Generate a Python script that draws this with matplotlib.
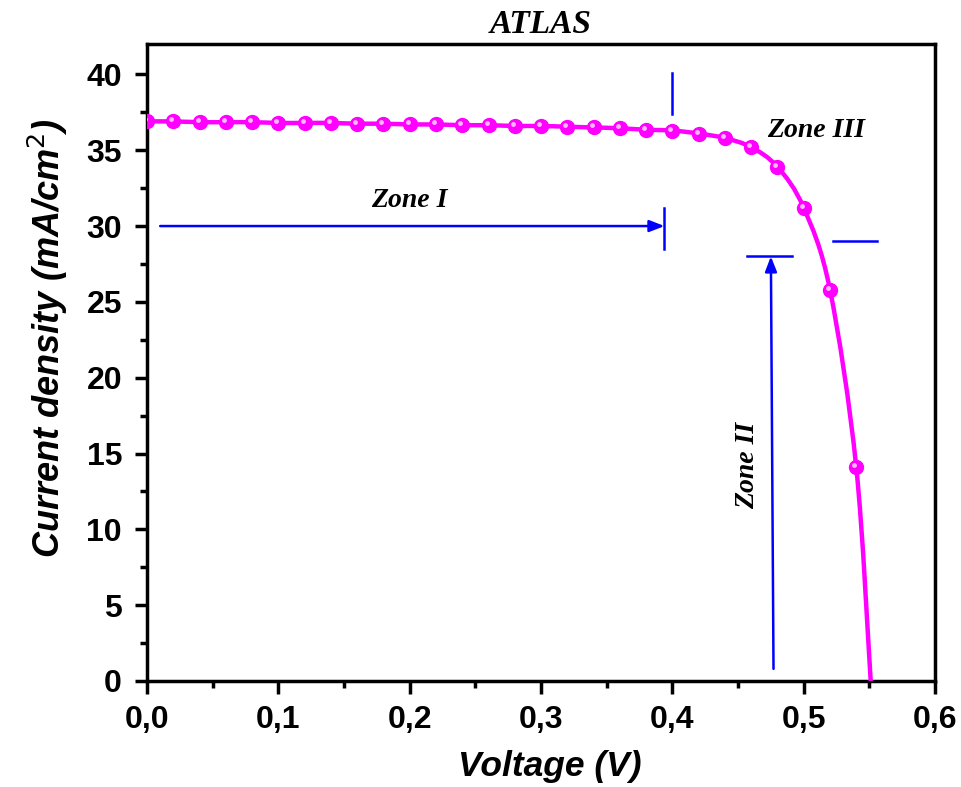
import matplotlib
matplotlib.use("Agg")
import matplotlib.pyplot as plt
from matplotlib.ticker import MultipleLocator, FuncFormatter
from matplotlib.transforms import offset_copy
from matplotlib.path import Path
from matplotlib.patches import PathPatch

# J-V data
voltage = [0.00, 0.02, 0.04, 0.06, 0.08, 0.10, 0.12, 0.14, 0.16, 0.18,
           0.20, 0.22, 0.24, 0.26, 0.28, 0.30, 0.32, 0.34, 0.36, 0.38,
           0.40, 0.42, 0.44, 0.46, 0.48, 0.50, 0.52, 0.54]
current = [36.9, 36.9, 36.85, 36.85, 36.85, 36.8, 36.8, 36.8, 36.75, 36.75,
           36.7, 36.7, 36.65, 36.65, 36.6, 36.6, 36.55, 36.5, 36.45, 36.35,
           36.3, 36.1, 35.8, 35.2, 33.9, 31.2, 25.8, 14.1]
voc = 0.551

xticks = [0.0, 0.1, 0.2, 0.3, 0.4, 0.5, 0.6]
yticks = [0, 5, 10, 15, 20, 25, 30, 35, 40]

sans = ["Liberation Sans", "DejaVu Sans"]
serif = ["Liberation Serif", "DejaVu Serif"]
magenta = "#ff00ff"
blue = "#0000ff"


def smooth_path(xs, ys):
    # Catmull-Rom through the points, drawn as cubic Bezier segments
    pts = list(zip(xs, ys))
    n = len(pts)
    verts = [pts[0]]
    codes = [Path.MOVETO]
    for i in range(n - 1):
        p0 = pts[max(i - 1, 0)]
        p1 = pts[i]
        p2 = pts[i + 1]
        p3 = pts[min(i + 2, n - 1)]
        c1 = (p1[0] + (p2[0] - p0[0]) / 6, p1[1] + (p2[1] - p0[1]) / 6)
        c2 = (p2[0] - (p3[0] - p1[0]) / 6, p2[1] - (p3[1] - p1[1]) / 6)
        verts += [c1, c2, p2]
        codes += [Path.CURVE4] * 3
    return Path(verts, codes)


fig = plt.figure(figsize=(9.61, 7.87), dpi=100)
ax = fig.add_axes([0.153, 0.1347, 0.820, 0.8093])

# curve + spherical markers
curve = PathPatch(smooth_path(voltage + [voc], current + [0]), fc="none",
                  ec=magenta, lw=3.2, zorder=3, capstyle="butt")
ax.add_patch(curve)
ax.plot(voltage, current, ls="none", marker="o", ms=10, color=magenta,
        mec=magenta, zorder=4)
hl = offset_copy(ax.transData, fig=fig, x=-2, y=2, units="dots")
ax.plot(voltage, current, ls="none", marker="o", ms=3.5, color="#ffb8ff",
        mec="none", transform=hl, zorder=5)

ax.set_xlim(0, 0.6)
ax.set_ylim(0, 42)
ax.set_xticks(xticks)
ax.set_yticks(yticks)
ax.xaxis.set_minor_locator(MultipleLocator(0.05))
ax.yaxis.set_minor_locator(MultipleLocator(2.5))
ax.xaxis.set_major_formatter(FuncFormatter(lambda v, p: f"{v:.1f}".replace(".", ",")))

for s in ax.spines.values():
    s.set_linewidth(2.5)
ax.tick_params(which="major", length=9, width=2.5, pad=8)
ax.tick_params(axis="y", which="major", pad=9)
ax.tick_params(which="minor", length=5, width=2.5)
ax.tick_params(top=False, right=False, which="both", direction="out")
for lab in ax.get_xticklabels() + ax.get_yticklabels():
    lab.set_fontfamily(sans)
    lab.set_fontweight("bold")
    lab.set_fontsize(23)

ax.set_xlabel("Voltage (V)", family=sans, weight="bold", style="italic",
              fontsize=25.5, labelpad=11, x=0.511)
ax.set_ylabel("Current density (mA/cm$^2$)", family=sans, weight="bold",
              style="italic", fontsize=26, labelpad=12, y=0.538)
ax.set_title("ATLAS", family=serif, weight="bold", style="italic",
             fontsize=24, pad=8)

zone_kw = dict(family=serif, weight="bold", style="italic", fontsize=20,
               color="black", ha="center", va="center")
arrow_kw = dict(arrowstyle="-|>,head_length=0.9,head_width=0.35",
                color=blue, lw=1.8, shrinkA=0, shrinkB=0)

# Zone I
ax.annotate("", xy=(0.394, 30.0), xytext=(0.01, 30.0), arrowprops=arrow_kw)
ax.plot([0.394, 0.394], [28.5, 31.2], color=blue, lw=1.8)
ax.text(0.2, 31.7, "Zone I", **zone_kw)

# boundary mark at 0.4 V
ax.plot([0.4, 0.4], [37.4, 40.1], color=blue, lw=1.8)

# Zone II
ax.annotate("", xy=(0.475, 28.0), xytext=(0.477, 0.8), arrowprops=arrow_kw)
ax.plot([0.457, 0.491], [28.0, 28.0], color=blue, lw=1.8)
ax.text(0.457, 14.2, "Zone II", rotation=90, **zone_kw)

# Zone III
ax.plot([0.522, 0.556], [29.0, 29.0], color=blue, lw=1.8)
ax.text(0.509, 36.3, "Zone III", **zone_kw)

fig.savefig("out.png", dpi=100)
